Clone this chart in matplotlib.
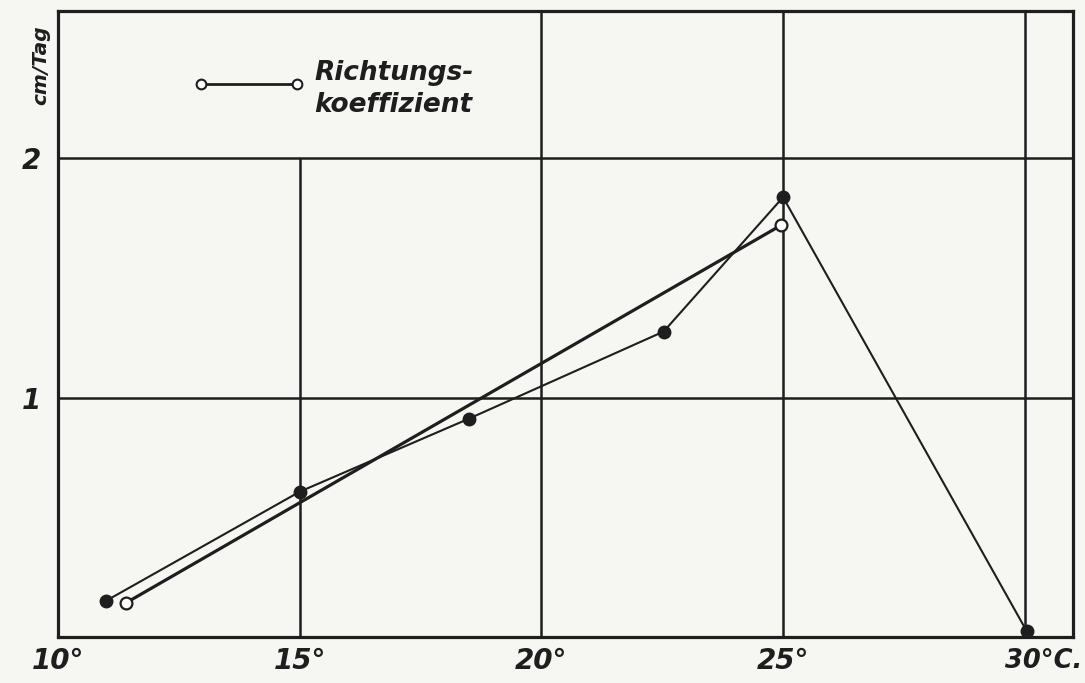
import matplotlib.pyplot as plt

# measured growth per day against temperature
temp_meas = [11.0, 15.0, 18.5, 22.53, 25.0, 30.04]
rate_meas = [0.152, 0.607, 0.912, 1.276, 1.837, 0.025]

# slope line ("Richtungskoeffizient"), open circles at both ends
temp_coef = [11.40, 24.96]
rate_coef = [0.142, 1.72]

xticks = [10, 15, 20, 25]
xticklabels = ['10°', '15°', '20°', '25°']
yticks = [1, 2]
yticklabels = ['1', '2']

ink = '#1e1e1e'
paper = '#f6f6f3'
fnt = dict(family='DejaVu Sans', style='italic', weight='bold', color=ink)

fig = plt.figure(figsize=(10.85, 6.83), dpi=100, facecolor=paper)
ax = fig.add_axes([0.0535, 0.0673, 0.9355, 0.9167], facecolor=paper)

ax.set_xlim(10, 31.0)
ax.set_ylim(0, 2.615)

# grid: 15° line only runs up to 2 cm/Tag
ax.axhline(1, color=ink, lw=1.8, zorder=1)
ax.axhline(2, color=ink, lw=1.8, zorder=1)
ax.vlines(15, 0, 2, color=ink, lw=1.8, zorder=1)
for xv in (20, 25, 30):
    ax.axvline(xv, color=ink, lw=1.8, zorder=1)

ax.plot(temp_meas, rate_meas, color=ink, lw=1.5, marker='o', ms=9,
        mfc=ink, mec=ink, zorder=3)
ax.plot(temp_coef, rate_coef, color=ink, lw=2.3, marker='o', ms=8.5,
        mfc='white', mec=ink, mew=1.6, zorder=4)

# legend drawn by hand
ax.plot([12.95, 14.95], [2.31, 2.31], color=ink, lw=2.0, marker='o', ms=7,
        mfc='white', mec=ink, mew=1.5, zorder=4, clip_on=False)
ax.text(15.3, 2.29, 'Richtungs-\nkoeffizient', fontsize=19, va='center',
        ha='left', linespacing=1.3, **fnt)

for s in ax.spines.values():
    s.set_linewidth(2.3)
    s.set_color(ink)

ax.set_xticks(xticks)
ax.set_xticklabels(xticklabels, **fnt)
ax.set_yticks(yticks)
ax.set_yticklabels(yticklabels, **fnt)
ax.tick_params(length=0, labelsize=20)
ax.tick_params(axis='x', pad=7)
ax.tick_params(axis='y', pad=12)

ax.annotate('30°C.', xy=(30, 0), xytext=(-14, -8), textcoords='offset points',
            ha='left', va='top', fontsize=18.5, annotation_clip=False, **fnt)

fig.text(0.038, 0.905, 'cm/Tag', rotation=90, fontsize=14.5, ha='center',
         va='center', **fnt)

fig.savefig('out.png', dpi=100, facecolor=paper)
